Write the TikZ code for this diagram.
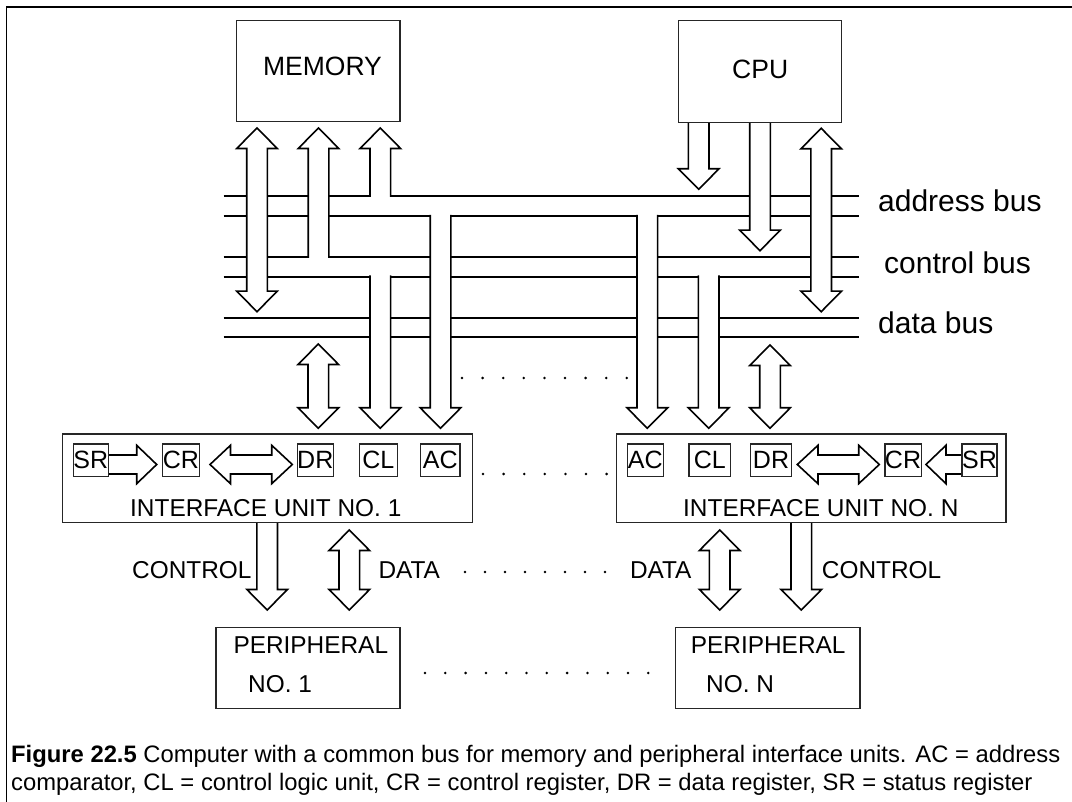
\documentclass[tikz,border=0pt]{standalone}
\usepackage{fontspec}
\setmainfont{Liberation Sans}
\usepackage{tikz}

\begin{document}
\begin{tikzpicture}[x=1pt,y=-1pt,
  box/.style={draw=black!85,line width=1.1pt,inner sep=0pt},
  reg/.style={box,minimum height=32.7pt,font=\fontsize{25}{28}\selectfont},
  bus/.style={line width=1.8pt},
  fat/.style={draw=black,fill=white,line width=1.6pt,line join=miter},
  big/.style={font=\fontsize{26.5}{30}\selectfont,inner sep=0pt,anchor=base},
  txt/.style={font=\fontsize{24.4}{28}\selectfont,inner sep=0pt},
  buslbl/.style={font=\fontsize{30}{34}\selectfont,inner sep=0pt,anchor=base west},
  captxt/.style={font=\fontsize{23.8}{28}\selectfont,inner sep=0pt,anchor=base west},
  dots/.style={line width=2.8pt,line cap=round,dash pattern=on 0pt off #1}
]
\useasboundingbox (0,0) rectangle (1072,802);
\clip (0,0) rectangle (1072,802);
% ---------- frame ----------
\draw[line width=1.5pt] (6.7,810) -- (6.7,7) -- (1080,7);
% ---------- address, control and data bus ----------
\foreach \y in {195.7,216,256.7,276.7,317.7,337.3}
  \draw[bus] (223.5,\y) -- (859,\y);
\node[buslbl] (adr) at (878,212) {address bus};
\node[buslbl] (ctl) at (884,274) {control bus};
\node[buslbl] (dat) at (878,334) {data bus};
% ---------- fat arrows: down (centre/tail/tip) ----------
\foreach \c/\t/\e in {698.7/122.3/189.3,760/122.3/250.7,440.5/214.8/428.3,380.3/275.5/428.3,
                      647.3/214.8/428.3,708.7/275.5/428.3,267.2/522.7/610,801.3/522.7/610}
  \filldraw[fat] (\c-10.3,\t) -- (\c-10.3,\e-20.5) -- (\c-20.3,\e-20.5) -- (\c,\e)
    -- (\c+20.3,\e-20.5) -- (\c+10.3,\e-20.5) -- (\c+10.3,\t);
% up
\foreach \c/\t/\e in {318.5/257.9/128,380.3/196.9/128}
  \filldraw[fat] (\c-10.3,\t) -- (\c-10.3,\e+20.5) -- (\c-20.3,\e+20.5) -- (\c,\e)
    -- (\c+20.3,\e+20.5) -- (\c+10.3,\e+20.5) -- (\c+10.3,\t);
% both ways
\foreach \c/\a/\b in {257/128/311.7,821.2/128.3/311.7,318.3/344/428.3,770/345/428.3,
                      349.3/530/610,719.7/530/610}
  \filldraw[fat] (\c,\a) -- (\c+20.3,\a+20.5) -- (\c+10.3,\a+20.5) -- (\c+10.3,\b-20.5)
    -- (\c+20.3,\b-20.5) -- (\c,\b) -- (\c-20.3,\b-20.5) -- (\c-10.3,\b-20.5)
    -- (\c-10.3,\a+20.5) -- (\c-20.3,\a+20.5) -- cycle;
% inside the interface units
\filldraw[fat] (108.3,455) -- (136.7,455) -- (136.7,445.3) -- (156.7,464.5) -- (136.7,483.7)
  -- (136.7,474) -- (108.3,474);
\filldraw[fat] (210,464.5) -- (230.5,445.3) -- (230.5,455) -- (271.7,455) -- (271.7,445.3)
  -- (292.3,464.5) -- (271.7,483.7) -- (271.7,474) -- (230.5,474) -- (230.5,483.7) -- cycle;
\filldraw[fat] (797.3,464.5) -- (818,445.3) -- (818,455) -- (858.7,455) -- (858.7,445.3)
  -- (879.3,464.5) -- (858.7,483.7) -- (858.7,474) -- (818,474) -- (818,483.7) -- cycle;
\filldraw[fat] (962,455) -- (946,455) -- (946,445.3) -- (926,464.5) -- (946,483.7)
  -- (946,474) -- (962,474);
% ---------- memory and cpu ----------
\node[box,minimum width=163.3pt,minimum height=101pt] (mem) at (318.3,71.2) {};
\node[big] (memtxt) at (322.5,76) {MEMORY};
\node[box,minimum width=163.4pt,minimum height=101.6pt] (cpu) at (760,71.5) {};
\node[big] (cputxt) at (760.2,78.3) {CPU};
% ---------- interface units ----------
\node[box,minimum width=410pt,minimum height=88.7pt] (if1) at (267.7,478.35) {};
\node[txt,anchor=base west] (if1txt) at (130,516) {INTERFACE UNIT NO. 1};
\node[reg,minimum width=35pt]   (sr1) at (90.8,460.35) {SR};
\node[reg,minimum width=36.6pt] (cr1) at (181,460.35) {CR};
\node[reg,minimum width=36pt]   (dr1) at (315.3,460.35) {DR};
\node[reg,minimum width=38pt]   (cl1) at (378.3,460.35) {CL};
\node[reg,minimum width=39.3pt] (ac1) at (440.35,460.35) {AC};
\node[box,minimum width=389.3pt,minimum height=88.7pt] (ifn) at (811.35,478.35) {};
\node[txt,anchor=base west] (ifntxt) at (683,516) {INTERFACE UNIT NO. N};
\node[reg,minimum width=36pt]   (acn) at (645.3,460.35) {AC};
\node[reg,minimum width=41.7pt] (cln) at (709.85,460.35) {CL};
\node[reg,minimum width=41.4pt] (drn) at (771,460.35) {DR};
\node[reg,minimum width=36pt]   (crn) at (903,460.35) {CR};
\node[reg,minimum width=35pt]   (srn) at (979.5,460.35) {SR};
% ---------- peripherals ----------
\node[box,minimum width=184pt,minimum height=81pt] (per1) at (308,667.8) {};
\node[txt,anchor=base west] (per1a) at (233.3,653) {PERIPHERAL};
\node[txt,anchor=base west] (per1b) at (248,692) {NO. 1};
\node[box,minimum width=184.3pt,minimum height=81pt] (pern) at (767.85,667.8) {};
\node[txt,anchor=base west] (perna) at (690.7,653) {PERIPHERAL};
\node[txt,anchor=base west] (pernb) at (706,692) {NO. N};
\node[txt,anchor=base east] (ctl1) at (251.7,578) {CONTROL};
\node[txt,anchor=base west] (dat1) at (378.3,578) {DATA};
\node[txt,anchor=base east] (datn) at (691.7,578) {DATA};
\node[txt,anchor=base west] (ctln) at (821.7,578) {CONTROL};
% ---------- dotted gaps ----------
\draw[dots=20.6pt] (462,378) -- (628,378);
\draw[dots=20.6pt] (483,474) -- (608,474);
\draw[dots=20pt] (465,572) -- (606,572);
\draw[dots=20.3pt] (425,673) -- (649,673);
% ---------- caption ----------
\node[captxt] (cap1) at (11,762.7) {\textbf{Figure 22.5}\ Computer with a common bus for memory and peripheral interface units. AC = address};
\node[captxt] (cap2) at (11,790.5) {comparator, CL = control logic unit, CR = control register, DR = data register, SR = status register};
\end{tikzpicture}
\end{document}
